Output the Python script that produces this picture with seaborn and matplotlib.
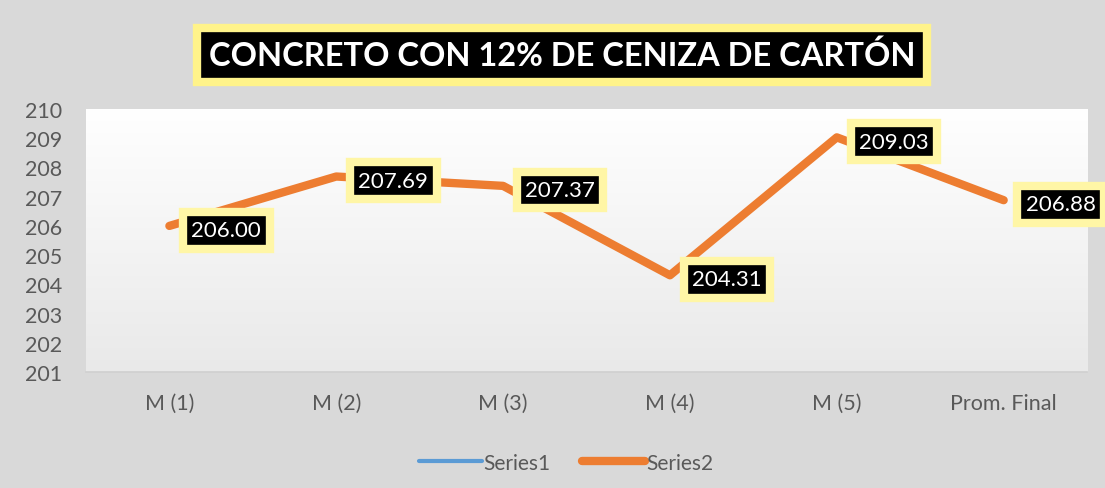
import numpy as np
import pandas as pd
import seaborn as sns
import matplotlib.pyplot as plt
from matplotlib.colors import LinearSegmentedColormap

# values
muestras = ["M (1)", "M (2)", "M (3)", "M (4)", "M (5)", "Prom. Final"]
series2 = [206.00, 207.69, 207.37, 204.31, 209.03, 206.88]
series1 = []  # shown in legend only, no points drawn
titulo = "CONCRETO CON 12% DE CENIZA DE CARTÓN"

sns.set_theme(style="white")
plt.rcParams['font.family'] = ['Lato', 'DejaVu Sans']

df = pd.DataFrame({"muestra": muestras, "valor": series2})

fig = plt.figure(figsize=(11.05, 4.89), dpi=100)
fig.patch.set_facecolor("#d9d9d9")
ax = fig.add_axes([0.0778, 0.2372, 0.906, 0.5378])

# plot area: white to light grey gradient
grad = np.linspace(1, 0, 256).reshape(-1, 1)
ax.imshow(grad, cmap=LinearSegmentedColormap.from_list("g", ["#e9e9e9", "#ffffff"]),
          aspect="auto", extent=[0, 1, 0, 1], transform=ax.transAxes, zorder=0)

ax.plot(series1, color="#5b9bd5", lw=3, label="Series1")
sns.lineplot(data=df, x="muestra", y="valor", ax=ax, color="#ed7d31",
             lw=6, label="Series2", sort=False, zorder=3,
             solid_capstyle="round", solid_joinstyle="round")

for i, v in enumerate(series2):
    ax.annotate(f"{v:.2f}", (i, v), xytext=(41, -3), textcoords="offset points",
                ha="center", va="center", color="white", fontsize=16, zorder=5,
                bbox=dict(boxstyle="square,pad=0.38", fc="black",
                          ec="#fff6a6", lw=6))

ax.set_xlim(-0.5, len(muestras) - 0.5)
ax.set_ylim(201, 210)
ax.set_yticks(range(201, 211))
ax.set_xlabel("")
ax.set_ylabel("")
for s in ["top", "right", "left"]:
    ax.spines[s].set_visible(False)
ax.spines["bottom"].set_color("#d0d0d0")
ax.tick_params(axis="both", length=0, labelsize=15.5, labelcolor="#595959")
ax.tick_params(axis="y", pad=17)
ax.tick_params(axis="x", pad=15)

fig.text(0.509, 0.886, titulo, ha="center", va="center", color="white",
         fontsize=23.5, fontweight="bold",
         bbox=dict(boxstyle="square,pad=0.36", fc="black", ec="#fff38a", lw=6))

leg = ax.legend(loc="upper center", bbox_to_anchor=(0.48, -0.235), ncol=2,
                frameon=False, fontsize=15, handlelength=3.0,
                handletextpad=0.1, columnspacing=1.5)
for t in leg.get_texts():
    t.set_color("#595959")

fig.savefig("out.png", dpi=100, facecolor=fig.get_facecolor())
